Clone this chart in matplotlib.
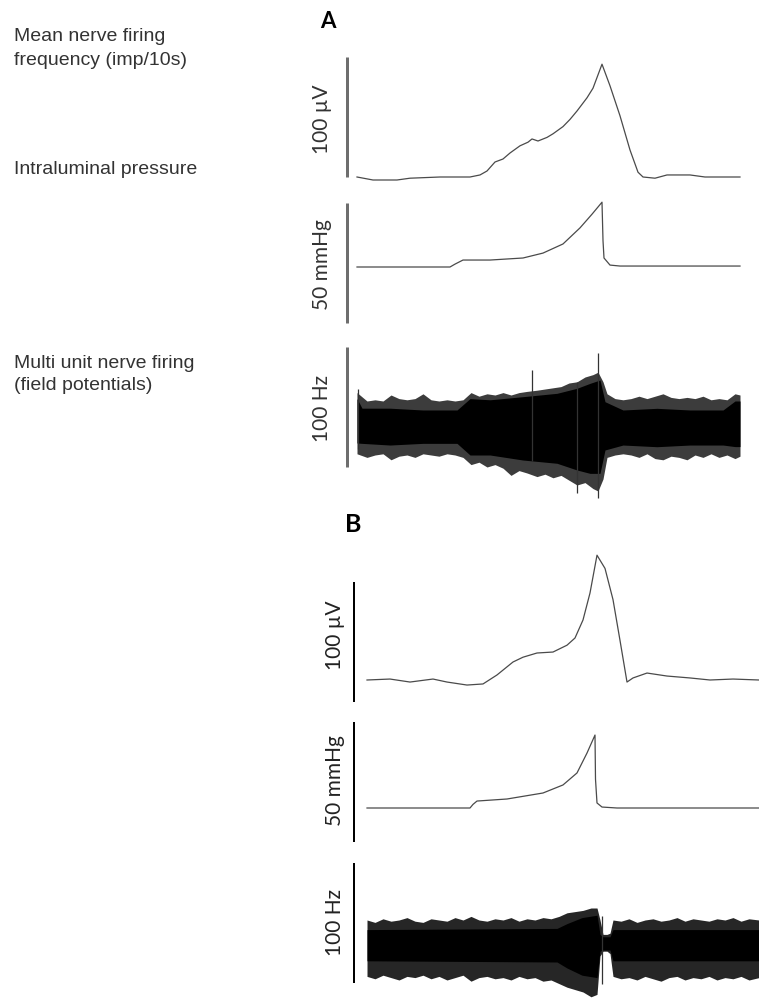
import matplotlib
matplotlib.use("Agg")
import matplotlib.pyplot as plt
import numpy as np

# ---------------- data ----------------
# Panel A, mean nerve firing frequency (time index, value in µV-scale units above baseline)
a_freq_t = [0, 16, 40, 53, 83, 113, 123, 130, 138, 146, 153, 163, 171, 175, 181, 190, 196, 206,
            213, 220, 230, 236, 245, 253, 263, 273, 281, 286, 298, 310, 333, 348, 383]
a_freq_v = [0, -2.5, -2.5, -1, 0, 0, 1.7, 5, 12.5, 15, 20, 26, 29, 31.7, 30, 33, 36, 42,
            48, 55, 66, 74, 94, 76, 51, 22.5, 4, 0, -1, 1.7, 1.7, 0, 0]

# Panel A, intraluminal pressure (mmHg above baseline)
a_pres_t = [0, 93, 98, 106, 133, 166, 186, 206, 223, 235, 245, 246, 247, 253, 263, 383]
a_pres_v = [0, 0, 1.2, 2.9, 2.9, 3.75, 5.8, 9.6, 16.3, 22, 27, 11, 3.75, 0.8, 0.4, 0.4]

# Panel A, multi-unit field potentials: envelopes of the trace
a_env_t = [0, 10, 18, 26, 34, 42, 50, 58, 66, 74, 82, 90, 98, 106, 114, 122, 130, 138, 146, 154,
           162, 170, 180, 188, 196, 204, 212, 220, 228, 236, 241, 246, 250, 258, 266, 274, 282, 290,
           298, 306, 314, 322, 330, 338, 346, 354, 362, 370, 378, 383]
a_env_hi = [27, 20, 21, 20, 25, 22, 21, 22, 26, 21, 20, 21, 20, 21, 27, 24, 26, 25, 27, 25,
            27, 28, 29, 30, 31, 32, 35, 36, 40, 42, 44, 36, 26, 22, 21, 22, 24, 22,
            24, 26, 23, 22, 23, 22, 24, 21, 22, 21, 26, 25]
a_env_lo = [-24, -27, -25, -24, -29, -26, -25, -27, -24, -25, -26, -24, -25, -27, -33, -31, -35, -33, -36, -42,
            -38, -40, -43, -41, -44, -42, -46, -50, -48, -53, -55, -45, -27, -25, -24, -25, -27, -24,
            -28, -29, -26, -27, -29, -25, -27, -24, -27, -25, -28, -26]
a_core_t = [0, 5, 33, 66, 100, 113, 133, 166, 200, 220, 233, 243, 248, 266, 300, 333, 366, 378, 383]
a_core_hi = [22, 14, 14, 12.5, 12.5, 22, 21, 23.6, 26.4, 30.6, 34.7, 37.5, 19.4, 12.5, 13.9, 12.5, 12.5, 20, 20]
a_core_lo = [-15, -15.3, -16.7, -15.3, -15.3, -25, -25, -29.2, -31.9, -37.5, -40.3, -40.3, -20.8, -16.7,
             -18.1, -16.7, -16.7, -18, -18]
a_spike_t = [1, 175, 220, 241]
a_spike_lo = [-20, -30, -57, -61]
a_spike_hi = [30, 46, 36, 60]

# Panel B, mean nerve firing frequency
b_freq_t = [0, 23, 43, 66, 80, 100, 116, 130, 146, 156, 170, 186, 200, 208, 216, 223, 230, 238,
            246, 253, 260, 266, 280, 300, 323, 343, 366, 392]
b_freq_v = [0, 0.8, -1.7, 0.8, -1.7, -4.2, -3.3, 4.2, 15, 19, 22.5, 23.3, 29, 35, 50, 72.5, 104,
            93, 67, 33, -1.7, 1.7, 5.8, 3.3, 1.7, 0, 0.8, 0]

# Panel B, intraluminal pressure
b_pres_t = [0, 103, 106, 110, 140, 176, 196, 210, 220, 228, 228.5, 230, 235, 250, 392]
b_pres_v = [0, 0, 1.5, 2.9, 3.75, 6.25, 9.6, 14.6, 22.9, 30.4, 12, 2.1, 0.4, 0, 0]

# Panel B, multi-unit field potentials
b_env_t = [0, 8, 16, 24, 32, 40, 48, 56, 64, 72, 80, 88, 96, 104, 112, 120, 128, 136, 144, 152,
           160, 168, 176, 184, 192, 200, 208, 216, 224, 230, 233, 236, 240, 243, 246, 254, 262, 270,
           278, 286, 294, 302, 310, 318, 326, 334, 342, 350, 358, 366, 374, 382, 392]
b_env_hi = [20, 18, 21, 19, 20, 22, 19, 18, 21, 20, 19, 22, 20, 23, 20, 19, 21, 20, 22, 19,
            21, 20, 22, 21, 23, 26, 27, 28, 30, 30, 20, 8, 8, 9, 20, 19, 21, 18,
            20, 21, 19, 20, 22, 19, 21, 20, 19, 21, 20, 22, 19, 21, 20]
b_env_lo = [-27, -29, -26, -28, -30, -27, -28, -26, -29, -27, -30, -28, -26, -31, -28, -27, -29, -28, -30, -27,
            -29, -28, -31, -30, -33, -36, -38, -40, -44, -42, -10, -6, -6, -8, -27, -29, -28, -30,
            -27, -29, -31, -28, -27, -30, -28, -29, -27, -30, -28, -29, -27, -30, -28]
b_core_t = [0, 190, 200, 215, 230, 233, 236, 243, 246, 392]
b_core_hi = [12, 13, 17, 22, 24, 8, 6, 6, 12, 12]
b_core_lo = [-14, -15, -20, -26, -28, -6, -5, -5, -14, -14]
b_spike_t = [235]
b_spike_lo = [-33]
b_spike_hi = [23]

# Scale bars and labels
bar_labels = ["100 µV", "50 mmHg", "100 Hz"]
bar_sizes = [100, 50, 100]
row_labels = ["Mean nerve firing\nfrequency (imp/10s)", "Intraluminal pressure",
              "Multi unit nerve firing\n(field potentials)"]
panel_letters = ["A", "B"]

# ---------------- figure ----------------
W, H = 759, 999
fig = plt.figure(figsize=(W / 100, H / 100), dpi=100)
PT = 72 / 100.0  # points per pixel


def trace_axes(x0, x1, ytop, ybot, base, k, tmax, bar_lo, bar_size, bar_off, bar_color, bar_lw):
    ax = fig.add_axes([x0 / W, 1 - ybot / H, (x1 - x0) / W, (ybot - ytop) / H])
    ax.set_xlim(0, tmax)
    ax.set_ylim((base - ybot) / k, (base - ytop) / k)
    ax.patch.set_visible(False)
    for s in ["top", "right", "bottom"]:
        ax.spines[s].set_visible(False)
    sp = ax.spines["left"]
    sp.set_position(("outward", bar_off * PT))
    sp.set_bounds(bar_lo, bar_lo + bar_size)
    sp.set_color(bar_color)
    sp.set_linewidth(bar_lw * PT)
    sp.set_capstyle("butt")
    ax.set_xticks([])
    ax.set_yticks([])
    return ax


line_kw = dict(color="#4a4a4a", lw=0.9, clip_on=False)
txt_color = "#333333"

# ---- Panel A ----
axA1 = trace_axes(357, 740, 50, 185, 177, 1.2, 383, 0, bar_sizes[0], 10, "#6e6e6e", 3)
axA1.plot(a_freq_t, a_freq_v, **line_kw)

axA2 = trace_axes(357, 740, 195, 330, 267, 2.4, 383, -23.3, bar_sizes[1], 10, "#6e6e6e", 3)
axA2.plot(a_pres_t, a_pres_v, **line_kw)

axA3 = trace_axes(357, 740, 340, 505, 425, 1.2, 383, -35, bar_sizes[2], 10, "#6e6e6e", 3)
axA3.fill_between(a_env_t, a_env_lo, a_env_hi, color="#3c3c3c", lw=0, clip_on=False)
axA3.fill_between(a_core_t, a_core_lo, a_core_hi, color="black", lw=0, clip_on=False)
axA3.vlines(a_spike_t, a_spike_lo, a_spike_hi, color="#333333", lw=0.9, clip_on=False)

# ---- Panel B ----
axB1 = trace_axes(367, 759, 545, 710, 680, 1.2, 392, -18.3, bar_sizes[0], 13, "black", 2)
axB1.plot(b_freq_t, b_freq_v, **line_kw)

axB2 = trace_axes(367, 759, 715, 850, 808, 2.4, 392, -14.2, bar_sizes[1], 13, "black", 2)
axB2.plot(b_pres_t, b_pres_v, **line_kw)

axB3 = trace_axes(367, 759, 855, 999, 944, 1.2, 392, -32.5, bar_sizes[2], 13, "black", 2)
axB3.fill_between(b_env_t, b_env_lo, b_env_hi, color="#262626", lw=0, clip_on=False)
axB3.fill_between(b_core_t, b_core_lo, b_core_hi, color="black", lw=0, clip_on=False)
axB3.vlines(b_spike_t, b_spike_lo, b_spike_hi, color="#333333", lw=0.9, clip_on=False)


def ftext(x, y, s, **kw):
    fig.text(x / W, 1 - y / H, s, **kw)


# row labels on the left
lab_kw = dict(family=["Liberation Sans", "DejaVu Sans"], fontsize=14, color=txt_color,
              ha="left", va="baseline", linespacing=1.55)
ftext(14, 35 + 30, row_labels[0], **lab_kw)
ftext(14, 174, row_labels[1], **lab_kw)
ftext(14, 390, row_labels[2], **{**lab_kw, "linespacing": 1.4})

# scale-bar labels
sb_kw = dict(family=["Lato", "DejaVu Sans"], fontsize=15, rotation=90, ha="center", va="center")
for (cx, cy), s in zip([(322, 119), (322, 265), (322, 408)], bar_labels):
    ftext(cx, cy, s, color="#333333", **sb_kw)
for (cx, cy), s in zip([(335, 635), (335, 781), (335, 923)], bar_labels):
    ftext(cx, cy, s, color="#222222", **sb_kw)

# panel letters
ftext(328, 21, panel_letters[0], family=["Lato", "DejaVu Sans"], fontweight="bold", fontsize=16,
      ha="center", va="center", color="black")
ftext(353, 524, panel_letters[1], family=["Lato", "DejaVu Sans"], fontweight="bold", fontsize=18,
      ha="center", va="center", color="black")

fig.savefig("out.png", dpi=100)
